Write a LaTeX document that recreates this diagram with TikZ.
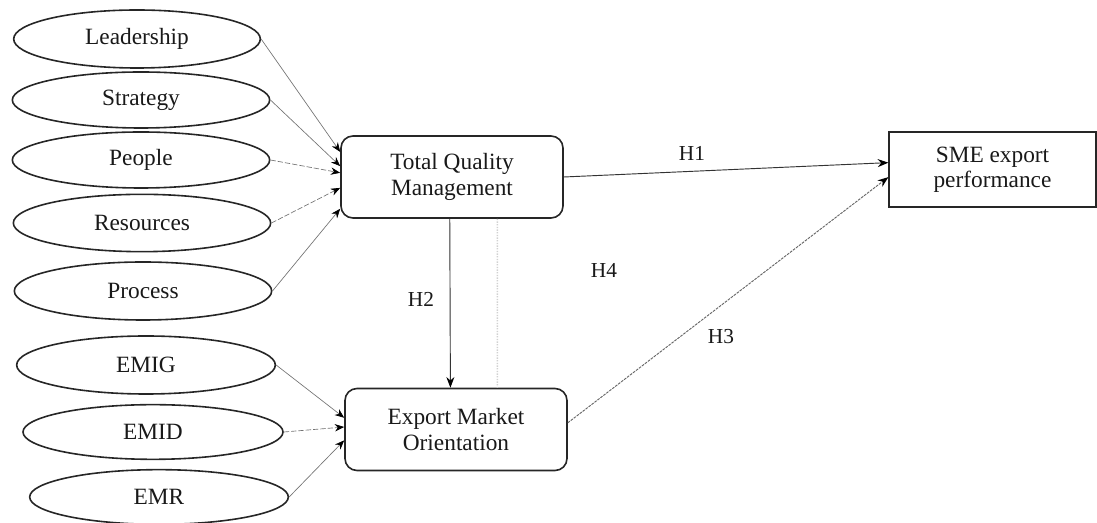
\documentclass[tikz,border=0pt]{standalone}
\usepackage{fontspec}
\setmainfont{Liberation Serif}
\usetikzlibrary{shapes.geometric,arrows.meta,calc}
\begin{document}
\begin{tikzpicture}[x=0.75pt,y=-0.75pt,
  every node/.style={font=\fontsize{17.5}{19}\selectfont, text=black!90},
  oval/.style={draw=black!85, line width=1.2pt, ellipse, inner sep=0pt},
  roundbox/.style={draw=black!85, line width=1.2pt, rounded corners=9pt, minimum width=166.5pt, minimum height=61.5pt, align=center},
  plainbox/.style={draw=black!85, line width=1.2pt, minimum width=155pt, minimum height=56pt, align=center},
  feed/.style={draw=black!55, line width=0.5pt, -{Stealth[length=7pt,width=5.5pt,black]}},
  feeddash/.style={feed, dash pattern=on 4pt off 1.5pt},
  mainarrow/.style={draw=black!80, line width=0.7pt, -{Stealth[length=8pt,width=6pt,black]}},
  hyp/.style={font=\fontsize{16}{18}\selectfont}
]
\useasboundingbox (0,0) rectangle (1097,523);
% ellipses
\node[oval, minimum width=185pt, minimum height=43.5pt] (lead) at (137,39) {Leadership};
\node[oval, minimum width=193pt, minimum height=42pt] (strat) at (141,100) {Strategy};
\node[oval, minimum width=193pt, minimum height=42pt] (peop) at (141,160) {People};
\node[oval, minimum width=193pt, minimum height=43pt] (res) at (142,223) {Resources};
\node[oval, minimum width=193pt, minimum height=43.5pt] (proc) at (143,291) {Process};
\node[oval, minimum width=194pt, minimum height=43.5pt] (emig) at (146,365) {EMIG};
\node[oval, minimum width=195pt, minimum height=41pt] (emid) at (153,432) {EMID};
\node[oval, minimum width=194pt, minimum height=41pt] (emr) at (159,497) {EMR};
% boxes
\node[roundbox] (tqm) at (452,177) {Total Quality\\Management};
\node[roundbox] (emo) at (456,429.5) {Export Market\\Orientation};
\node[plainbox] (sme) at (992.5,169.5) {SME export\\performance};
% feeders to TQM
\draw[feed] (lead.east) -- ($(tqm.north west)!0.2!(tqm.south west)$);
\draw[feed] (strat.east) -- ($(tqm.north west)!0.37!(tqm.south west)$);
\draw[feeddash] (peop.east) -- ($(tqm.north west)!0.45!(tqm.south west)$);
\draw[feeddash] (res.east) -- ($(tqm.north west)!0.63!(tqm.south west)$);
\draw[feed] (proc.east) -- ($(tqm.north west)!0.88!(tqm.south west)$);
% feeders to EMO
\draw[feed] (emig.east) -- ($(emo.north west)!0.36!(emo.south west)$);
\draw[feeddash] (emid.east) -- ($(emo.north west)!0.47!(emo.south west)$);
\draw[feed] (emr.east) -- ($(emo.north west)!0.63!(emo.south west)$);
% hypotheses
\draw[mainarrow] (tqm.east) -- ($(sme.north west)!0.41!(sme.south west)$);
\draw[mainarrow] ($(tqm.south west)!0.49!(tqm.south east)$) -- ($(emo.north west)!0.475!(emo.north east)$);
\draw[mainarrow, draw=black!60, dash pattern=on 2pt off 0.8pt] ($(emo.north east)!0.42!(emo.south east)$) -- ($(sme.north west)!0.6!(sme.south west)$);
\draw[black!18, line width=1pt, densely dotted] ($(tqm.south west)!0.703!(tqm.south east)$) -- ($(emo.north west)!0.685!(emo.north east)$);
\node[hyp] (h1) at (692,153) {H1};
\node[hyp] (h2) at (421,299) {H2};
\node[hyp] (h3) at (721,337) {H3};
\node[hyp] (h4) at (604,270) {H4};
\end{tikzpicture}
\end{document}
